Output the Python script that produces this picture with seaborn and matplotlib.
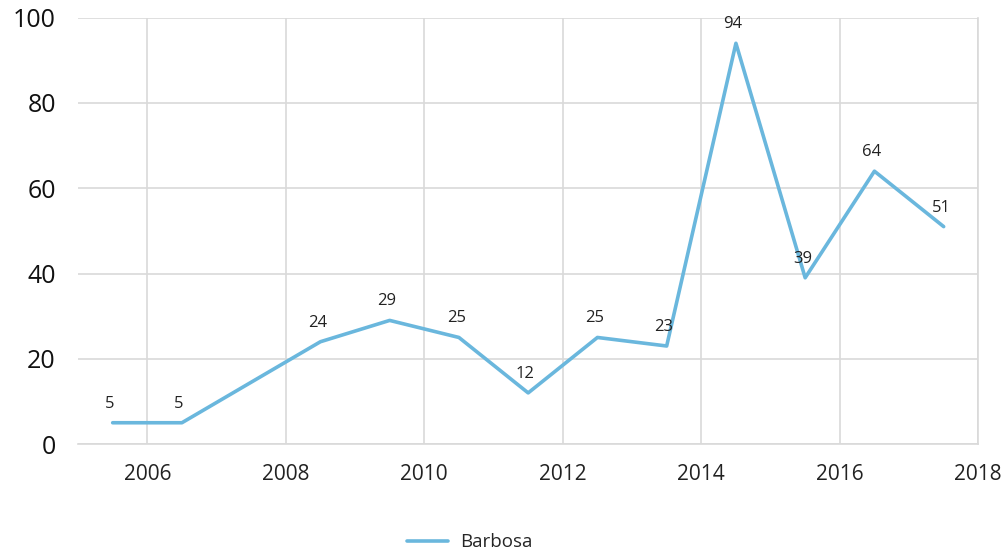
import pandas as pd
import numpy as np
import seaborn as sns
import matplotlib.pyplot as plt

years = [2005.5, 2006.5, 2008.5, 2009.5, 2010.5, 2011.5, 2012.5, 2013.5, 2014.5, 2015.5, 2016.5, 2017.5]
values = [5, 5, 24, 29, 25, 12, 25, 23, 94, 39, 64, 51]
series = 'Barbosa'
x_ticks = [2006, 2008, 2010, 2012, 2014, 2016, 2018]
y_ticks = [0, 20, 40, 60, 80, 100]

df = pd.DataFrame({'year': years, 'value': values, 'name': series})

sns.set_style('white')
plt.rcParams['font.family'] = ['Open Sans', 'DejaVu Sans']

fig = plt.figure(figsize=(10.07, 5.53), dpi=100)
ax = fig.add_axes([0.0775, 0.197, 0.894, 0.771])

sns.lineplot(data=df, x='year', y='value', hue='name', palette=['#6AB7DD'],
             linewidth=2.6, ax=ax)

for x, y in zip(years, values):
    ax.annotate(str(y), (x, y), xytext=(-2, 8), textcoords='offset points',
                ha='center', va='bottom', fontsize=12, color='#222222')

ax.set_xlim(2005, 2018)
ax.set_ylim(0, 100)
ax.set_xticks(x_ticks)
ax.set_yticks(y_ticks)
ax.grid(True, color='#d9d9d9', linewidth=1.2)
ax.set_axisbelow(True)
for s in ['top', 'left']:
    ax.spines[s].set_visible(False)
ax.spines['right'].set_color('#d9d9d9')
ax.spines['bottom'].set_color('#d9d9d9')
ax.spines['right'].set_linewidth(1.2)
ax.spines['bottom'].set_linewidth(1.2)
ax.tick_params(axis='x', labelsize=15, length=0, pad=14, colors='#222222')
ax.tick_params(axis='y', labelsize=18, length=0, pad=16, colors='#111111')
ax.set_xlabel('')
ax.set_ylabel('')

ax.legend(loc='upper center', bbox_to_anchor=(0.435, -0.17), frameon=False,
          fontsize=13.5, handlelength=2.2, handletextpad=0.6)

fig.savefig('out.png', dpi=100)
